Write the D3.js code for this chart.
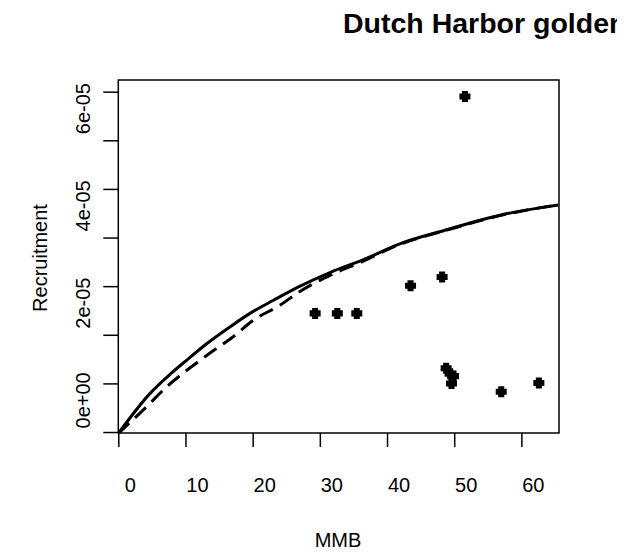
<!DOCTYPE html>
<html>
<head>
<meta charset="utf-8">
<script src="https://cdn.jsdelivr.net/npm/d3@7"></script>
<style>
html,body{margin:0;padding:0;background:#fff;overflow:hidden;}
svg{display:block;font-family:"Liberation Sans",Arial,sans-serif;}
</style>
</head>
<body>
<svg id="chart" width="637" height="557"></svg>
<script>
// ---- data ----
const titleText = "Dutch Harbor golden king crab";
const xLabel = "MMB";
const yLabel = "Recruitment";

const obsMMB = [29.3, 32.6, 35.5, 43.5, 48.2, 48.8, 49.4, 49.9, 49.6, 51.6, 57.0, 62.6];
const obsRec = [1.44e-5, 1.44e-5, 1.44e-5, 2.01e-5, 2.19e-5, 0.31e-5, 0.2e-5, 0.15e-5, 0.0, 5.9e-5, -0.17e-5, 0.01e-5];

const solidMMB = [0, 4.7, 7.9, 10.2, 13.2, 16.6, 19.6, 23.1, 26.9, 31.5, 36.4, 41.9, 48.6, 56.8, 62.7, 65.5];
const solidRec = [-1.03e-5, -0.21e-5, 0.21e-5, 0.48e-5, 0.82e-5, 1.16e-5, 1.44e-5, 1.71e-5, 1.99e-5, 2.28e-5, 2.54e-5, 2.87e-5, 3.15e-5, 3.46e-5, 3.61e-5, 3.67e-5];

const dashMMB = [0, 4.2, 7.2, 10.2, 13.2, 17.1, 20.1, 24.1, 26.9, 31.5, 36.4, 41.9, 48.6, 56.8, 62.7, 65.5];
const dashRec = [-1.03e-5, -0.48e-5, -0.07e-5, 0.27e-5, 0.58e-5, 0.96e-5, 1.30e-5, 1.61e-5, 1.88e-5, 2.22e-5, 2.51e-5, 2.86e-5, 3.14e-5, 3.45e-5, 3.61e-5, 3.67e-5];

const xTicks = [0, 10, 20, 30, 40, 50, 60];
const yTicks = [-1e-5, 0, 1e-5, 2e-5, 3e-5, 4e-5, 5e-5, 6e-5];
const yTickLabels = ["0e+00", "2e-05", "4e-05", "6e-05"];
const yLabelledTicks = [0, 2e-5, 4e-5, 6e-5];

// ---- layout ----
const svg = d3.select("#chart");
const L = 118.3, R = 559, T = 80, B = 433;
const x = d3.scaleLinear().domain([0, 65.6]).range([L, R]);
const y = d3.scaleLinear().domain([-1.02e-5, 6.24e-5]).range([B, T]);

// box
svg.append("rect").attr("x", L).attr("y", T).attr("width", R - L).attr("height", B - T)
  .attr("fill", "none").attr("stroke", "#000").attr("stroke-width", 1.5);

// x axis
const xAxis = d3.axisBottom(x).tickValues(xTicks).tickSize(14).tickFormat("");
const gx = svg.append("g").attr("transform", `translate(0,${B})`).call(xAxis);
gx.select(".domain").remove();
gx.selectAll("line").attr("stroke", "#000").attr("stroke-width", 1.5);
svg.append("g").selectAll("text").data(xTicks).join("text")
  .attr("x", d => x(d) + 12).attr("y", 492)
  .attr("text-anchor", "middle").attr("font-size", 20).attr("fill", "#000")
  .text(d => d);

// y axis
const yAxis = d3.axisLeft(y).tickValues(yTicks).tickSize(15).tickFormat("");
const gy = svg.append("g").attr("transform", `translate(${L},0)`).call(yAxis);
gy.select(".domain").remove();
gy.selectAll("line").attr("stroke", "#000").attr("stroke-width", 1.5);
svg.append("g").selectAll("text").data(yLabelledTicks).join("text")
  .attr("transform", (d) => `translate(90,${y(d) + 17}) rotate(-90)`)
  .attr("text-anchor", "middle").attr("font-size", 20).attr("fill", "#000")
  .text((d, i) => yTickLabels[i]);

// axis titles
svg.append("text").attr("x", 338).attr("y", 547).attr("text-anchor", "middle")
  .attr("font-size", 20).text(xLabel);
svg.append("text").attr("transform", "translate(47,258) rotate(-90)")
  .attr("text-anchor", "middle").attr("font-size", 20).text(yLabel);

// title (cropped on the right, as in the reference)
const tclip = svg.append("clipPath").attr("id", "titleclip");
tclip.append("rect").attr("x", 0).attr("y", 0).attr("width", 617).attr("height", 60);
svg.append("text").attr("clip-path", "url(#titleclip)")
  .attr("x", 343).attr("y", 33).attr("font-size", 28.5)
  .attr("font-weight", "bold").text(titleText);

// curves
const line = d3.line().x(d => x(d[0])).y(d => y(d[1])).curve(d3.curveMonotoneX);
const clip = svg.append("clipPath").attr("id", "plotclip");
clip.append("rect").attr("x", L).attr("y", T).attr("width", R - L).attr("height", B - T);
const plot = svg.append("g").attr("clip-path", "url(#plotclip)");
plot.append("path").datum(dashMMB.map((v, i) => [v, dashRec[i]]))
  .attr("d", line).attr("fill", "none").attr("stroke", "#000")
  .attr("stroke-width", 3).attr("stroke-dasharray", "15,8");
plot.append("path").datum(solidMMB.map((v, i) => [v, solidRec[i]]))
  .attr("d", line).attr("fill", "none").attr("stroke", "#000")
  .attr("stroke-width", 3);

// points: fat plus marker
const fatPlus = {
  draw(ctx, size) {
    const r = Math.sqrt(size) / 2, w = r * 0.55;
    ctx.moveTo(-w, -r); ctx.lineTo(w, -r); ctx.lineTo(w, -w); ctx.lineTo(r, -w);
    ctx.lineTo(r, w); ctx.lineTo(w, w); ctx.lineTo(w, r); ctx.lineTo(-w, r);
    ctx.lineTo(-w, w); ctx.lineTo(-r, w); ctx.lineTo(-r, -w); ctx.lineTo(-w, -w);
    ctx.closePath();
  }
};
svg.append("g").selectAll("path").data(obsMMB.map((v, i) => [v, obsRec[i]])).join("path")
  .attr("transform", d => `translate(${x(d[0])},${y(d[1])})`)
  .attr("d", d3.symbol().type(fatPlus).size(121))
  .attr("fill", "#000");
</script>
</body>
</html>
